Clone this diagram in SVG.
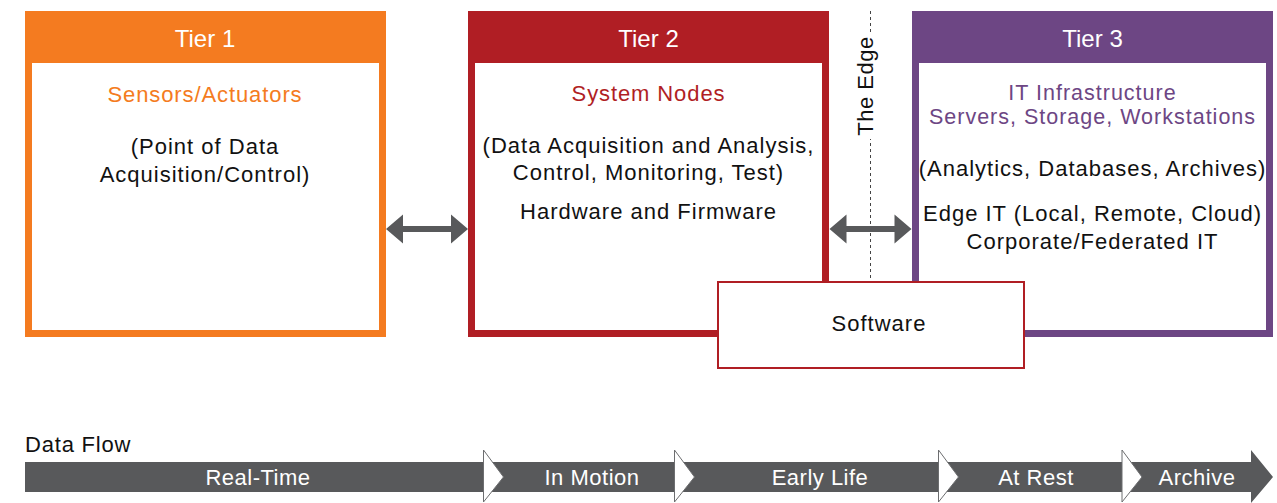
<svg xmlns="http://www.w3.org/2000/svg" xmlns:xlink="http://www.w3.org/1999/xlink" width="1277" height="503" viewBox="0 0 1277 503">
  <style>
    text { font-family: "Liberation Sans", Arial, sans-serif; }
    .hdr { fill: #ffffff; font-size: 24px; text-anchor: middle; }
    .ttl { font-size: 22px; text-anchor: middle; letter-spacing: 0.9px; }
    .ttl2 { font-size: 21.5px; text-anchor: middle; letter-spacing: 1px; }
    .body { fill: #111111; font-size: 22px; text-anchor: middle; letter-spacing: 1px; }
    .flow { fill: #ffffff; font-size: 22px; text-anchor: middle; letter-spacing: 0.5px; }
    .inner { fill: #ffffff; }
  </style>
  <defs>
    <!-- double-headed connector, 82px long, centred on y=0 -->
    <path id="dblArrow" d="M0,0 L17,-14.5 L17,-3 L65,-3 L65,-14.5 L82,0 L65,14.5 L65,3 L17,3 L17,14.5 Z" fill="#58595b"/>
    <!-- segment separator on the data-flow bar -->
    <path id="chevron" d="M0,-27 L20,0 L0,25 Z" fill="#ffffff" stroke="#6d6e70" stroke-width="1"/>
  </defs>

  <!-- Tier 1 -->
  <g id="tier1">
    <rect x="25" y="11" width="361" height="326" fill="#f47b20"/>
    <rect class="inner" x="32" y="63" width="347" height="267"/>
    <text class="hdr" x="205" y="47">Tier 1</text>
    <text class="ttl" x="205" y="102" fill="#f47b20">Sensors/Actuators</text>
    <text class="body" x="205" y="154">(Point of Data</text>
    <text class="body" x="205" y="182">Acquisition/Control)</text>
  </g>

  <!-- Tier 2 -->
  <g id="tier2">
    <rect x="468" y="11" width="361" height="326" fill="#b01e24"/>
    <rect class="inner" x="475" y="63" width="347" height="267"/>
    <text class="hdr" x="648.5" y="47">Tier 2</text>
    <text class="ttl" x="648.5" y="101" fill="#b01e24">System Nodes</text>
    <text class="body" x="648.5" y="153">(Data Acquisition and Analysis,</text>
    <text class="body" x="648.5" y="180">Control, Monitoring, Test)</text>
    <text class="body" x="648.5" y="219">Hardware and Firmware</text>
  </g>

  <!-- Tier 3 -->
  <g id="tier3">
    <rect x="912" y="11" width="361" height="326" fill="#6d4684"/>
    <rect class="inner" x="919" y="63" width="347" height="267"/>
    <text class="hdr" x="1092.5" y="47">Tier 3</text>
    <text class="ttl2" x="1092.5" y="99.5" fill="#6d4684">IT Infrastructure</text>
    <text class="ttl2" x="1092.5" y="124" fill="#6d4684">Servers, Storage, Workstations</text>
    <text class="body" x="1092.5" y="176">(Analytics, Databases, Archives)</text>
    <text class="body" x="1092.5" y="221">Edge IT (Local, Remote, Cloud)</text>
    <text class="body" x="1092.5" y="249">Corporate/Federated IT</text>
  </g>

  <!-- The Edge boundary -->
  <g id="edge">
    <line x1="870.5" y1="11" x2="870.5" y2="282" stroke="#444444" stroke-width="1" stroke-dasharray="3,3"/>
    <rect x="858" y="33" width="24" height="106" fill="#ffffff"/>
    <text class="body" transform="translate(873,86) rotate(-90)" x="0" y="0" style="letter-spacing:0.5px">The Edge</text>
  </g>

  <!-- Software layer spanning Tier 2 and Tier 3 -->
  <g id="software">
    <rect x="718" y="282" width="306" height="86" fill="#ffffff" stroke="#b01e24" stroke-width="2"/>
    <text class="body" x="879" y="331">Software</text>
  </g>

  <!-- connectors between tiers -->
  <g id="connectors">
    <use xlink:href="#dblArrow" x="386" y="229"/>
    <use xlink:href="#dblArrow" x="829.5" y="229"/>
  </g>

  <!-- Data flow timeline -->
  <g id="dataflow">
    <text x="25" y="452" fill="#111111" font-size="22" letter-spacing="0.8">Data Flow</text>
    <path d="M25,462 L1251,462 L1251,450 L1273,477 L1251,503 L1251,492 L25,492 Z" fill="#58595b"/>
    <use xlink:href="#chevron" x="483.5" y="477"/>
    <use xlink:href="#chevron" x="674.5" y="477"/>
    <use xlink:href="#chevron" x="938.5" y="477"/>
    <use xlink:href="#chevron" x="1122" y="477"/>
    <text class="flow" x="258" y="485">Real-Time</text>
    <text class="flow" x="592" y="485">In Motion</text>
    <text class="flow" x="820" y="485">Early Life</text>
    <text class="flow" x="1036" y="485">At Rest</text>
    <text class="flow" x="1197" y="485">Archive</text>
  </g>
</svg>
